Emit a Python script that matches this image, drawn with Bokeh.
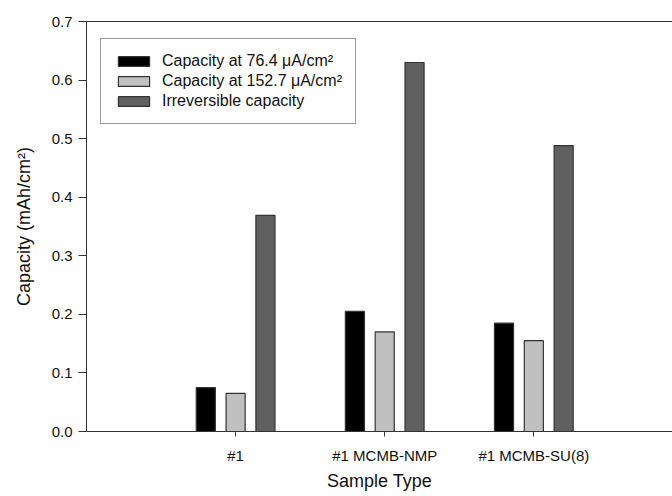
from bokeh.plotting import figure
from bokeh.models import (ColumnDataSource, FixedTicker, LinearAxis, Range1d,
                          Legend, LegendItem, CustomJSTickFormatter)
from bokeh.transform import dodge
from bokeh.embed import file_html
from bokeh.resources import INLINE

categories = ["#1", "#1 MCMB-NMP", "#1 MCMB-SU(8)"]
cap_76 = [0.075, 0.205, 0.185]
cap_152 = [0.065, 0.170, 0.155]
irreversible = [0.369, 0.630, 0.488]
series_labels = ["Capacity at 76.4 \u03bcA/cm\u00b2",
                 "Capacity at 152.7 \u03bcA/cm\u00b2",
                 "Irreversible capacity"]
series_colors = ["#000000", "#c0c0c0", "#606060"]
y_ticks = [0.0, 0.1, 0.2, 0.3, 0.4, 0.5, 0.6, 0.7]

xpos = [i + 1 for i in range(len(categories))]
src = ColumnDataSource(dict(x=xpos, a=cap_76, b=cap_152, c=irreversible))

FONT = "Liberation Sans"

p = figure(width=672, height=496, output_backend="svg", toolbar_location=None,
           x_range=Range1d(0, 3.93), y_range=Range1d(0, 0.7),
           min_border_left=86, min_border_right=0, min_border_top=21,
           min_border_bottom=65, outline_line_color=None)
p.grid.visible = False
p.background_fill_color = "white"
p.border_fill_color = "white"

offsets = [-0.2, 0.0, 0.2]
fields = ["a", "b", "c"]
renderers = []
for off, f, col in zip(offsets, fields, series_colors):
    r = p.vbar(x=dodge("x", off), top=f, bottom=0, width=0.128, source=src,
               fill_color=col, line_color="#333333", line_width=1.2)
    renderers.append(r)

legend = Legend(items=[LegendItem(label=l, renderers=[r])
                       for l, r in zip(series_labels, renderers)],
                location=(14, 307), orientation="vertical",
                label_text_font=FONT, label_text_font_size="16px",
                label_text_color="#111111",
                glyph_width=39, glyph_height=12, label_height=18,
                spacing=2, padding=13, margin=0,
                border_line_color="#333333", border_line_width=1,
                background_fill_alpha=1.0, label_standoff=9)
p.add_layout(legend)

# axes
p.xaxis.ticker = FixedTicker(ticks=xpos)
p.xaxis.major_label_overrides = {x: c for x, c in zip(xpos, categories)}
p.xaxis.axis_label = "Sample Type"
p.yaxis.axis_label = "Capacity (mAh/cm\u00b2)"
p.yaxis.ticker = FixedTicker(ticks=y_ticks)
p.yaxis.formatter = CustomJSTickFormatter(code="return tick.toFixed(1);")

for ax in [p.xaxis[0], p.yaxis[0]]:
    ax.axis_line_color = "#333333"
    ax.axis_line_width = 1
    ax.major_tick_line_color = "#333333"
    ax.major_tick_in = 0
    ax.minor_tick_line_color = None
    ax.major_label_text_font = FONT
    ax.major_label_text_font_size = "15px"
    ax.major_label_text_color = "#111111"
    ax.axis_label_text_font = FONT
    ax.axis_label_text_font_size = "18px"
    ax.axis_label_text_font_style = "normal"
    ax.axis_label_text_color = "#111111"

p.xaxis.major_tick_out = 5
p.yaxis.major_tick_out = 8
p.xaxis.major_label_standoff = 10
p.xaxis.axis_label_standoff = 4
p.yaxis.major_label_standoff = 6
p.yaxis.axis_label_standoff = 15

top = LinearAxis(major_tick_line_color=None, minor_tick_line_color=None,
                 major_label_text_font_size="0px", axis_line_color="#333333",
                 axis_line_width=1)
top.ticker = FixedTicker(ticks=[])
p.add_layout(top, "above")

open("out.html", "w").write(file_html(p, INLINE))
